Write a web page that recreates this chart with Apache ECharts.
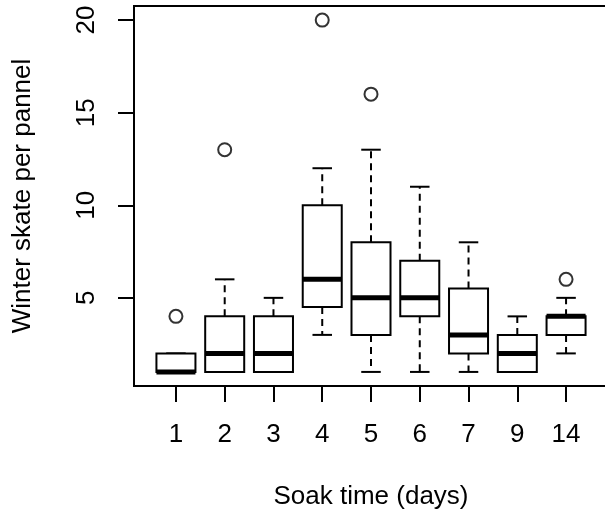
<!DOCTYPE html>
<html>
<head>
<meta charset="utf-8">
<script src="https://cdn.jsdelivr.net/npm/echarts@6/dist/echarts.min.js"></script>
<style>
html,body{margin:0;padding:0;background:#fff;}
#chart{width:605px;height:522px;}
</style>
</head>
<body>
<div id="chart"></div>
<script>
// Data
var categories   = ['1', '2', '3', '4', '5', '6', '7', '9', '14'];
var lowerWhisker = [1, 1, 1, 3,   1, 1, 1,   1, 2];
var q1           = [1, 1, 1, 4.5, 3, 4, 2,   1, 3];
var medians      = [1, 2, 2, 6,   5, 5, 3,   2, 4];
var q3           = [2, 4, 4, 10,  8, 7, 5.5, 3, 4];
var upperWhisker = [2, 6, 5, 12, 13, 11, 8,  4, 5];
var outlierCategory = ['1', '2', '4', '5', '14'];
var outlierValue    = [4, 13, 20, 16, 6];
var yTicks = [5, 10, 15, 20];

var positions = categories.map(function (c, i) { return i + 1; });
var boxData = categories.map(function (c, i) {
  return [i + 1, lowerWhisker[i], q1[i], medians[i], q3[i], upperWhisker[i]];
});
var outlierData = outlierCategory.map(function (c, i) {
  return [categories.indexOf(c) + 1, outlierValue[i]];
});

var FONT = '"Liberation Sans", Arial, sans-serif';
var chart = echarts.init(document.getElementById('chart'), null, {renderer: 'canvas'});

function renderBox(params, api) {
  var x = api.value(0);
  var lo = api.value(1), b1 = api.value(2), md = api.value(3), b3 = api.value(4), hi = api.value(5);
  var hw = 0.4, cw = 0.2;
  function p(xx, yy) { return api.coord([xx, yy]); }
  var children = [];
  var thin = {stroke: '#000', lineWidth: 2, fill: null};
  var dashed = {stroke: '#000', lineWidth: 2, lineDash: [7, 5], fill: null};
  var a, b;
  // upper whisker
  a = p(x, b3); b = p(x, hi);
  children.push({type: 'line', shape: {x1: a[0], y1: a[1], x2: b[0], y2: b[1]}, style: dashed});
  a = p(x - cw, hi); b = p(x + cw, hi);
  children.push({type: 'line', shape: {x1: a[0], y1: a[1], x2: b[0], y2: b[1]}, style: thin});
  // lower whisker
  a = p(x, b1); b = p(x, lo);
  children.push({type: 'line', shape: {x1: a[0], y1: a[1], x2: b[0], y2: b[1]}, style: dashed});
  a = p(x - cw, lo); b = p(x + cw, lo);
  children.push({type: 'line', shape: {x1: a[0], y1: a[1], x2: b[0], y2: b[1]}, style: thin});
  // box
  a = p(x - hw, b3); b = p(x + hw, b1);
  children.push({type: 'rect', shape: {x: a[0], y: a[1], width: b[0] - a[0], height: b[1] - a[1]},
    style: {stroke: '#000', lineWidth: 2, fill: '#fff'}});
  // median
  a = p(x - hw, md); b = p(x + hw, md);
  children.push({type: 'line', shape: {x1: a[0], y1: a[1], x2: b[0], y2: b[1]},
    style: {stroke: '#000', lineWidth: 5}});
  return {type: 'group', children: children};
}

var option = {
  animation: false,
  backgroundColor: '#fff',
  grid: {
    left: 134, top: 6, width: 474, height: 380,
    outerBoundsMode: 'none', containLabel: false,
    show: true, borderColor: '#000', borderWidth: 2, backgroundColor: 'transparent'
  },
  xAxis: {
    type: 'value', min: 0.14, max: 9.86,
    name: 'Soak time (days)', nameLocation: 'middle', nameGap: 98,
    nameTextStyle: {fontFamily: FONT, fontSize: 26, color: '#000'},
    axisLine: {show: false},
    splitLine: {show: false},
    axisTick: {show: true, customValues: positions, length: 16, lineStyle: {color: '#000', width: 2}},
    axisLabel: {
      customValues: positions, margin: 36,
      fontFamily: FONT, fontSize: 26, color: '#000',
      formatter: function (v) { return categories[Math.round(v) - 1]; }
    }
  },
  yAxis: {
    type: 'value', min: 0.24, max: 20.76,
    name: 'Winter skate per pannel', nameLocation: 'middle', nameGap: 98, nameRotate: 90,
    nameTextStyle: {fontFamily: FONT, fontSize: 26, color: '#000'},
    axisLine: {show: false},
    splitLine: {show: false},
    axisTick: {show: true, customValues: yTicks, length: 16, lineStyle: {color: '#000', width: 2}},
    axisLabel: {
      customValues: yTicks, rotate: 90, margin: 34,
      fontFamily: FONT, fontSize: 26, color: '#000'
    }
  },
  series: [
    {
      type: 'custom',
      renderItem: renderBox,
      data: boxData,
      encode: {x: 0, y: [1, 2, 3, 4, 5]},
      clip: false,
      z: 2
    },
    {
      type: 'scatter',
      data: outlierData,
      symbol: 'circle',
      symbolSize: 13,
      itemStyle: {color: 'rgba(0,0,0,0)', borderColor: '#000', borderWidth: 2},
      z: 3
    }
  ]
};
chart.setOption(option);
</script>
</body>
</html>
